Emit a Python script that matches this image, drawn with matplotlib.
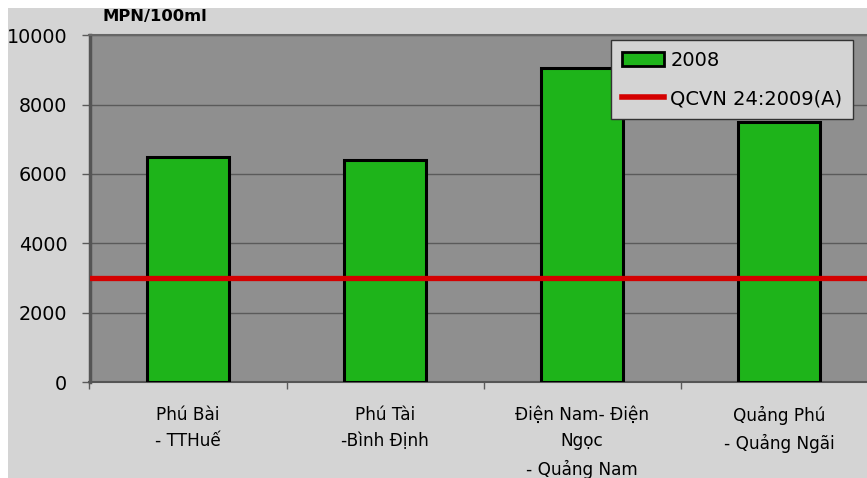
import matplotlib
matplotlib.use("Agg")
import matplotlib.pyplot as plt
from matplotlib.patches import Rectangle, Patch
from matplotlib.lines import Line2D

# Data
sites = ["Phú Bài\n- TTHuế", "Phú Tài\n-Bình Định", "Điện Nam- Điện\nNgọc\n- Quảng Nam", "Quảng Phú\n- Quảng Ngãi"]
coliform_2008 = [6500, 6400, 9050, 7500]
standard_limit = 3000
y_ticks = [0, 2000, 4000, 6000, 8000, 10000]
series_label = "2008"
limit_label = "QCVN 24:2009(A)"
unit_label = "MPN/100ml"

plt.rcParams['font.family'] = ['DejaVu Sans']

W, H = 867, 478
fig = plt.figure(figsize=(W / 100, H / 100), dpi=100, facecolor="white")

# light grey chart background with a thin white margin at top/left
fig.patches.append(Rectangle((8 / W, 0), 1, 1 - 8 / H, transform=fig.transFigure,
                             facecolor="#d4d4d4", edgecolor="none", zorder=-5))

ax = fig.add_axes([89.5 / W, 96 / H, 788 / W, 346.7 / H])
ax.set_facecolor("#8f8f8f")

x = list(range(len(sites)))
ax.bar(x, coliform_2008, width=0.416, color="#1eb41a", edgecolor="black",
       linewidth=2.2, zorder=3)
ax.axhline(standard_limit, color="#d40000", linewidth=3.8, zorder=4)

ax.set_xlim(-0.5, len(sites) - 0.5)
ax.set_ylim(0, 10000)
ax.set_yticks(y_ticks)
ax.set_yticklabels([str(v) for v in y_ticks], fontsize=13.8, color="black")
ax.yaxis.grid(True, color="#5a5a5a", linewidth=1, zorder=1)
ax.set_axisbelow(True)

ax.set_xticks(x)
ax.set_xticklabels(sites, fontsize=12.2, linespacing=1.62, va="top")
ax.tick_params(axis="x", which="major", length=0, pad=17)
ax.set_xticks([i + 0.5 for i in range(-1, len(sites))], minor=True)
ax.tick_params(axis="x", which="minor", length=5, color="#5a5a5a", width=1)
ax.tick_params(axis="y", length=6, color="#5a5a5a", width=1, pad=10)

ax.spines["left"].set_color("#555555")
ax.spines["left"].set_linewidth(2.5)
ax.spines["bottom"].set_color("#555555")
ax.spines["bottom"].set_linewidth(1.5)
ax.spines["top"].set_color("#666666")
ax.spines["top"].set_linewidth(1.5)
ax.spines["right"].set_visible(False)

fig.text(103 / W, 1 - 16 / H, unit_label, fontsize=11.8, fontweight="bold",
         va="center", ha="left")

handles = [Patch(facecolor="#1eb41a", edgecolor="black", linewidth=2),
           Line2D([0], [0], color="#d40000", linewidth=4)]
leg = ax.legend(handles, [series_label, limit_label], loc="upper left",
                bbox_to_anchor=(611 / W, 1 - 40 / H), bbox_transform=fig.transFigure,
                fontsize=14, frameon=True, fancybox=False, framealpha=1,
                facecolor="#d4d4d4", edgecolor="#333333", handlelength=2.2,
                handleheight=0.7, handletextpad=0.3, borderpad=0.55,
                labelspacing=1.0, borderaxespad=0)
leg.get_frame().set_linewidth(1)
leg.set_zorder(10)

fig.savefig("out.png", dpi=100, facecolor="white")
